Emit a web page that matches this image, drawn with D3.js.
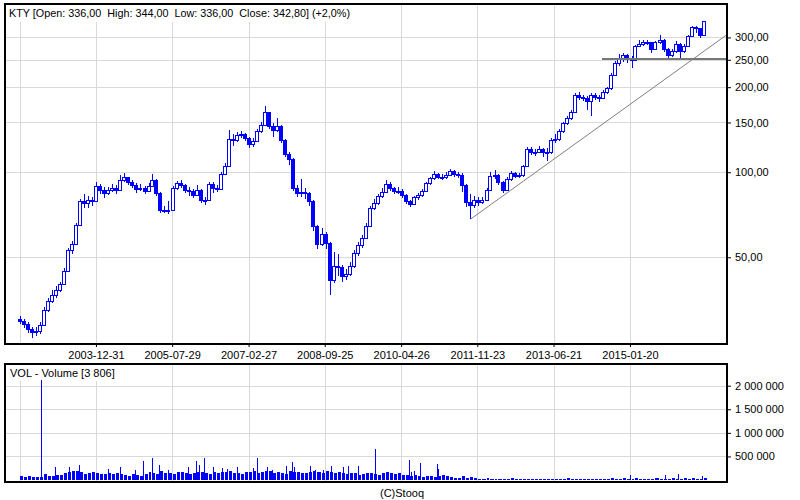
<!DOCTYPE html>
<html>
<head>
<meta charset="utf-8">
<script src="https://cdn.jsdelivr.net/npm/d3@7"></script>
<style>
html, body { margin: 0; padding: 0; background: #fff; }
svg text { font-family: "Liberation Sans", Arial, sans-serif; font-size: 11px; fill: #000; white-space: pre; }
</style>
</head>
<body>
<svg id="chart" width="800" height="500"></svg>
<script>
// KTY monthly candles (open = previous close)
var ticker = 'KTY';
var firstMonth = '2002-06-01';
var endMonth = '2016-09-01';
var firstOpen = 30.3;
var closes = [29.7,29.1,27.8,27.1,27.5,28.8,32.5,35.0,36.8,38.4,
    40.2,44.8,53.1,55.9,65.1,79.2,77.9,79.8,79.2,89.5,
    86.6,84.5,86.6,88.0,86.6,93.9,95.8,92.6,90.2,87.3,
    88.0,85.5,89.5,93.9,84.5,73.5,73.5,73.5,88.0,91.4,
    90.2,86.6,85.9,83.1,86.6,79.8,79.8,91.0,88.0,87.3,
    98.6,105,131,130,136,137,132,126,129,140,
    147,163,146,141,146,130,116,111,88,84.5,
    85,84.5,79,64.5,55.8,60.4,56.1,41.6,46.6,46.2,
    42.8,43.6,46.6,51.8,55.3,58.5,64.5,74.8,77.8,82.5,
    85.2,90.9,87.8,85.9,85.9,83.1,78.8,77.2,81.6,82.8,
    85.9,91.4,95.1,98.6,96.2,96.2,97.8,100.7,98.2,97.4,
    90.2,78.6,76.6,79.8,78.2,79.8,86.6,97.1,97.4,92.3,
    86.6,94.7,99.4,97.1,97.4,105,121,118,118,121,
    118,118,130,131,140,149,155,164,188,185,
    183,179,187,184,183,192,198,221,243,252,
    260,254,250,279,285,288,288,274,288,294,
    273,260,268,285,268,280,303,326,323,307,
    342.8];
var highs = [31.0,30.2,29.4,28.3,28.4,29.6,33.4,36.0,38.2,39.5,
    41.0,45.8,54.0,57.3,66.0,80.4,84.0,82.4,82.0,92.0,
    91.2,88.4,89.0,90.5,90.0,97.5,99.6,96.4,93.8,91.4,
    90.6,89.5,91.6,98.6,94.4,85.0,76.0,79.0,89.6,93.4,
    93.6,91.0,88.6,87.5,89.8,87.0,82.0,92.5,92.0,90.0,
    100.5,108,141,137,139,140,138,133,132,142,
    151,171,164,149,156,147,131,118,112,90,
    95,88,85,79.5,65,63.6,61.5,56.5,52,51.5,
    46.8,45.6,48,53,56.5,60,66,76,80.5,84,
    88,93.5,92,88.5,88.5,87,84,80,82.6,84.5,
    87.5,92.6,96.5,101,99.5,98.4,100.2,103,102,100.5,
    99,91,84,82.5,82,81.5,88,100,101.5,98.5,
    93,96,101,100.5,99.5,106.5,123,122.5,121,123.5,
    122,122,132,137,142,151,158,166,191,192,
    188,186,190,190,187,195,201,224,247,262,
    265,262,258,281,294,294,294,290,292,306,
    296,276,272,292,287,284,306,330,330,325,
    344];
var lows = [29.0,28.2,27.0,25.9,26.3,26.8,28.5,32.0,34.4,35.9,
    37.6,39.8,44.5,51.5,55.2,64.5,74.6,75.0,76.2,78.5,
    84.0,81.3,83.4,84.8,84.0,85.9,92.5,90.0,88.0,84.5,
    85.5,83.8,84.9,89.0,82.6,72.0,71.5,71.0,73.0,86.5,
    88.0,84.4,82.4,80.8,82.5,78.0,76.5,79.4,84.5,84.8,
    86.8,97.5,104,124,128,132,129,122,123,128,
    138,146,142,133,139,127,113,106,86,81.5,
    82,80.5,76,62,53.5,55,53.5,36.8,40.5,43,
    41,41.5,43,46,50.5,54,58,64,73.5,76.5,
    81,84.5,85.5,83.5,84,81,77,75.5,76.5,80,
    81.5,85,90,94,94.5,93.5,95,97,96,95.5,
    85,75.5,68.5,74.5,76,77,79,86,94.5,90,
    84.5,86,93,95.5,95.5,96.5,104,115.5,114.5,116.5,
    113,110,116,127,129,138,147,153,162,180,
    178,166,158,180,177,181,189,196,219,237,
    245,243,234,248,277,280,281,265,270,284,
    266,250,256,264,250,265,277,300,312,298,
    305];

// typical monthly volume level
var volBase = [80000,60000,90000,70000,60000,65000,120000,90000,80000,100000,
    110000,140000,170000,190000,200000,170000,130000,140000,180000,150000,
    130000,120000,140000,130000,150000,120000,100000,90000,120000,100000,
    90000,130000,170000,150000,120000,190000,150000,140000,130000,170000,
    180000,140000,130000,150000,180000,170000,140000,130000,170000,150000,
    180000,170000,200000,140000,150000,130000,170000,180000,190000,150000,
    170000,190000,200000,150000,170000,140000,130000,190000,180000,170000,
    150000,140000,180000,190000,170000,140000,200000,180000,150000,170000,
    140000,130000,150000,140000,110000,130000,140000,150000,130000,110000,
    140000,160000,140000,130000,150000,110000,100000,90000,100000,80000,
    70000,90000,80000,70000,80000,100000,80000,70000,50000,50000,
    80000,50000,60000,35000,25000,25000,35000,25000,30000,25000,
    25000,25000,35000,25000,20000,25000,30000,25000,20000,25000,
    30000,25000,20000,25000,25000,30000,35000,25000,25000,30000,
    25000,25000,30000,25000,20000,25000,30000,35000,25000,30000,
    35000,30000,25000,35000,30000,25000,30000,25000,35000,30000,
    25000,30000,35000,30000,25000,35000,30000,35000,30000,25000,
    40000];

// single-session volume spikes
var spikeDates = ['2002-11-10','2003-02-24','2003-06-10','2003-08-24','2004-03-31','2004-06-29',
    '2004-10-21','2004-12-23','2005-03-01','2005-04-23','2005-06-30','2005-11-28','2006-01-25',
    '2006-02-19','2006-03-27','2006-06-05','2006-08-08','2006-09-14','2006-12-03','2007-03-30',
    '2007-05-04','2007-07-14','2007-08-21','2007-12-04','2008-01-23','2008-02-05','2008-06-05',
    '2008-07-13','2008-09-14','2008-11-11','2009-02-12','2009-03-22','2009-06-05','2009-10-07',
    '2010-06-26','2010-07-09','2010-08-03','2010-09-15','2011-01-24','2011-01-31','2015-01-20',
    '2015-10-12','2016-01-16','2016-07-15'];
var spikeValues = [2120000,280000,270000,318000,233000,275000,
    212000,410000,473000,318000,212000,267000,410000,
    318000,473000,280000,247000,233000,267000,247000,
    473000,280000,212000,304000,375000,280000,290000,
    212000,212000,290000,280000,290000,290000,657000,
    424000,177000,190000,367000,340000,233000,105000,
    100000,120000,85000];

var lastOHLC = [336, 344, 336, 342.8];
var lastChange = 2.0;
var lastVolume = 3806;

var xDomain = ['2002-02-11', '2017-01-23'];
var gridDates = ['2002-06-03','2003-12-31','2005-07-29','2007-02-27','2008-09-25',
    '2010-04-26','2011-11-23','2013-06-21','2015-01-20'];
var labelDates = gridDates.slice(1);
var priceDomain = [24.66, 394];
var priceTicks = [50, 100, 150, 200, 250, 300];
var volDomain = [0, 2460000];
var volTicks = [500000, 1000000, 1500000, 2000000];

var trendLine = [['2011-10-04', 68.3], ['2017-01-23', 307]];
var levelLine = [['2014-06-23', 252], ['2017-01-23', 252]];

function drawChart() {
    var svg = d3.select('#chart');
    var left = 5, right = 727;
    var pTop = 4, pBottom = 344;
    var vTop = 364, vBottom = 482, vZero = 480;
    var blue = '#0000ff';
    var gridColor = '#d9d9d9';

    var pl = d3.formatLocale({ decimal: ',', thousands: ' ', grouping: [3], currency: ['', ''] });
    var fmt2 = pl.format('.2f'), fmt1 = pl.format('.1f'), fmtInt = pl.format(',');

    var parse = function(s){ return new Date(s + 'T00:00:00Z'); };

    var x = d3.scaleUtc().domain(xDomain.map(parse)).range([left, right]);
    var y = d3.scaleLog().domain(priceDomain).range([pBottom, pTop]);
    var yv = d3.scaleLinear().domain(volDomain).range([vZero, vTop]);

    var months = d3.utcMonths(parse(firstMonth), parse(endMonth));
    var candles = months.map(function(m, i){
        return { date: m, open: i === 0 ? firstOpen : closes[i - 1], close: closes[i], high: highs[i], low: lows[i], vol: volBase[i] };
    });

    svg.append('rect').attr('width', 800).attr('height', 500).attr('fill', '#fff');

    svg.append('clipPath').attr('id', 'clipP')
        .append('rect').attr('x', left).attr('y', pTop).attr('width', right - left).attr('height', pBottom - pTop);
    svg.append('clipPath').attr('id', 'clipV')
        .append('rect').attr('x', left).attr('y', vTop).attr('width', right - left).attr('height', vBottom - vTop);

    // ---- price panel ----
    var gridP = svg.append('g').attr('shape-rendering', 'crispEdges');
    gridP.append('g')
        .attr('transform', 'translate(0,' + pBottom + ')')
        .call(d3.axisBottom(x).tickValues(gridDates.map(parse)).tickSize(-(pBottom - pTop)).tickFormat(''))
        .call(function(g){ g.select('.domain').remove(); g.selectAll('line').attr('stroke', gridColor); });
    gridP.append('g')
        .attr('transform', 'translate(' + left + ',0)')
        .call(d3.axisLeft(y).tickValues(priceTicks).tickSize(-(right - left)).tickFormat(''))
        .call(function(g){ g.select('.domain').remove(); g.selectAll('line').attr('stroke', gridColor); });

    var headBox = svg.append('rect').attr('fill', '#fff');
    var header = svg.append('text')
        .attr('x', 9).attr('y', 13).attr('dy', '0.35em')
        .style('font-size', '10.8px')
        .text(ticker + ' [Open: ' + fmt2(lastOHLC[0]) + '  High: ' + fmt2(lastOHLC[1]) + '  Low: ' + fmt2(lastOHLC[2]) +
            '  Close: ' + fmt2(lastOHLC[3]) + '] (+' + fmt1(lastChange) + '%)');
    headBox.attr('x', left + 1).attr('y', pTop + 1)
        .attr('width', header.node().getComputedTextLength() + 6).attr('height', 17);

    var cg = svg.append('g').attr('clip-path', 'url(#clipP)').attr('shape-rendering', 'crispEdges');
    cg.selectAll('line.wick')
        .data(candles).enter().append('line')
        .attr('class', 'wick')
        .attr('x1', function(d){ return Math.round(x(d.date)) + 0.5; })
        .attr('x2', function(d){ return Math.round(x(d.date)) + 0.5; })
        .attr('y1', function(d){ return y(d.high); })
        .attr('y2', function(d){ return y(d.low); })
        .attr('stroke', blue)
        .attr('stroke-width', 1.5);
    cg.selectAll('rect.body')
        .data(candles).enter().append('rect')
        .attr('class', 'body')
        .attr('x', function(d){ return Math.round(x(d.date)) - 1.5; })
        .attr('y', function(d){ return Math.round(y(Math.max(d.open, d.close))) + 0.5; })
        .attr('width', 3)
        .attr('height', function(d){ return Math.max(1, Math.round(y(Math.min(d.open, d.close))) - Math.round(y(Math.max(d.open, d.close)))); })
        .attr('fill', function(d){ return d.close >= d.open ? '#fff' : blue; })
        .attr('stroke', blue);

    var lineGen = d3.line()
        .x(function(d){ return x(parse(d[0])); })
        .y(function(d){ return y(d[1]); });
    cg.append('path').datum(levelLine)
        .attr('d', lineGen).attr('fill', 'none').attr('stroke', '#777').attr('stroke-width', 2);
    svg.append('g').attr('clip-path', 'url(#clipP)')
        .append('path').datum(trendLine)
        .attr('d', lineGen).attr('fill', 'none').attr('stroke', '#808080').attr('stroke-width', 1);

    svg.append('rect')
        .attr('x', left).attr('y', pTop).attr('width', right - left).attr('height', pBottom - pTop)
        .attr('fill', 'none').attr('stroke', '#000').attr('stroke-width', 2).attr('shape-rendering', 'crispEdges');

    svg.append('g')
        .attr('transform', 'translate(' + right + ',0)')
        .call(d3.axisRight(y).tickValues(priceTicks).tickSize(4).tickPadding(4).tickFormat(fmt2))
        .call(function(g){ g.select('.domain').remove(); g.selectAll('text').attr('fill', '#000').style('font-size', '11px'); });

    svg.append('g')
        .attr('transform', 'translate(0,' + pBottom + ')')
        .call(d3.axisBottom(x).tickValues(labelDates.map(parse)).tickSize(3).tickPadding(4).tickFormat(d3.utcFormat('%Y-%m-%d')))
        .call(function(g){ g.select('.domain').remove(); g.selectAll('text').attr('fill', '#000').style('font-size', '11px'); });

    // ---- volume panel ----
    var gridV = svg.append('g').attr('shape-rendering', 'crispEdges');
    gridV.append('g')
        .attr('transform', 'translate(0,' + vBottom + ')')
        .call(d3.axisBottom(x).tickValues(gridDates.map(parse)).tickSize(-(vBottom - vTop)).tickFormat(''))
        .call(function(g){ g.select('.domain').remove(); g.selectAll('line').attr('stroke', gridColor); });
    gridV.append('g')
        .attr('transform', 'translate(' + left + ',0)')
        .call(d3.axisLeft(yv).tickValues(volTicks).tickSize(-(right - left)).tickFormat(''))
        .call(function(g){ g.select('.domain').remove(); g.selectAll('line').attr('stroke', gridColor); });

    var vBox = svg.append('rect').attr('fill', '#fff');
    var vHeader = svg.append('text')
        .attr('x', 10).attr('y', 373).attr('dy', '0.35em')
        .text('VOL - Volume [' + fmtInt(lastVolume) + ']');
    vBox.attr('x', left + 1).attr('y', vTop + 1)
        .attr('width', vHeader.node().getComputedTextLength() + 8).attr('height', 16);

    // monthly base bars leave a 1px gap so the comb texture shows
    var vg = svg.append('g').attr('clip-path', 'url(#clipV)').attr('shape-rendering', 'crispEdges');
    vg.selectAll('rect.vbase')
        .data(candles).enter().append('rect')
        .attr('class', 'vbase')
        .attr('x', function(d){ return Math.round(x(d.date)); })
        .attr('width', function(d){ return Math.max(1, Math.round(x(d3.utcMonth.offset(d.date, 1))) - Math.round(x(d.date)) - 1); })
        .attr('y', function(d){ return yv(d.vol); })
        .attr('height', function(d){ return yv(0) - yv(d.vol); })
        .attr('fill', blue);
    vg.selectAll('line.spike')
        .data(spikeDates).enter().append('line')
        .attr('class', 'spike')
        .attr('x1', function(d){ return Math.round(x(parse(d))) + 0.5; })
        .attr('x2', function(d){ return Math.round(x(parse(d))) + 0.5; })
        .attr('y1', yv(0))
        .attr('y2', function(d, i){ return yv(spikeValues[i]); })
        .attr('stroke', blue);

    svg.append('rect')
        .attr('x', left).attr('y', vTop).attr('width', right - left).attr('height', vBottom - vTop)
        .attr('fill', 'none').attr('stroke', '#000').attr('stroke-width', 2).attr('shape-rendering', 'crispEdges');

    svg.append('g')
        .attr('transform', 'translate(' + right + ',0)')
        .call(d3.axisRight(yv).tickValues(volTicks).tickSize(4).tickPadding(4).tickFormat(fmtInt))
        .call(function(g){ g.select('.domain').remove(); g.selectAll('text').attr('fill', '#000').style('font-size', '11px'); });

    svg.append('text')
        .attr('x', 402).attr('y', 493).attr('dy', '0.35em')
        .attr('text-anchor', 'middle')
        .text('(C)Stooq');
}

drawChart();
</script>
</body>
</html>
